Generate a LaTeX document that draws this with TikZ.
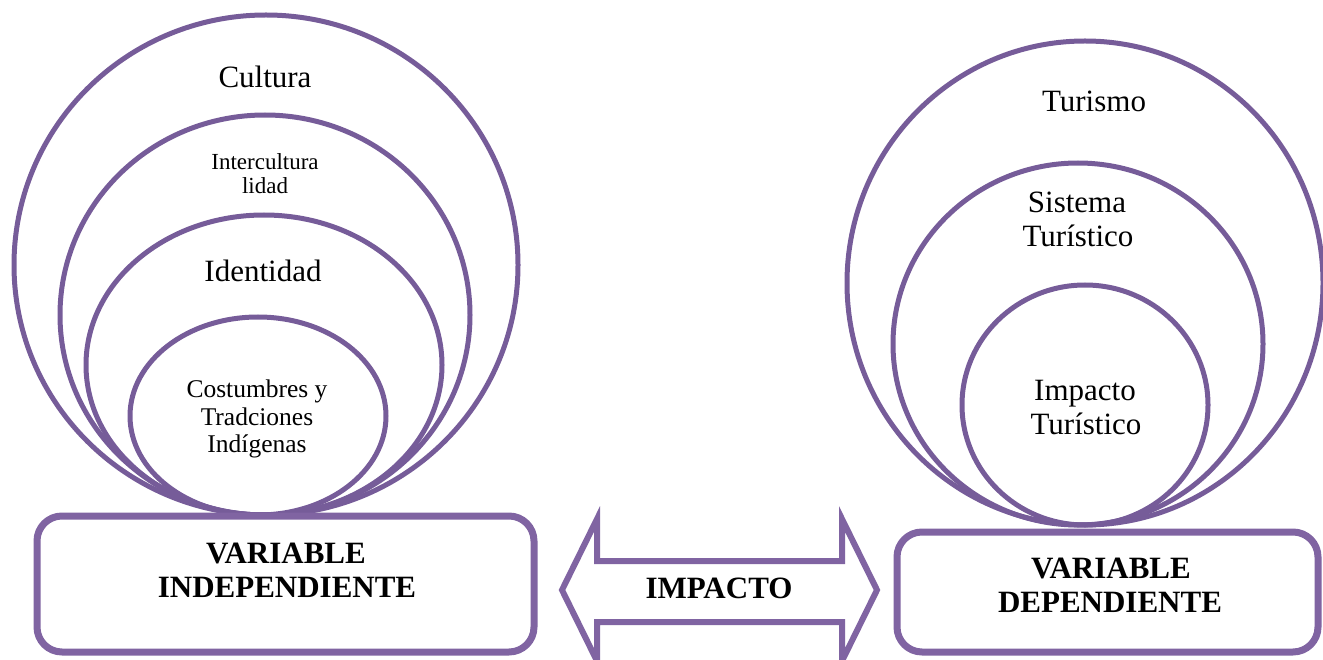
\documentclass[tikz,border=0pt]{standalone}
\usepackage{fontspec}
\setmainfont{Liberation Serif}
\definecolor{purp}{HTML}{8064A2}
\definecolor{purpdark}{HTML}{765C99}
\begin{document}
\begin{tikzpicture}[x=1pt,y=-1pt,
  ring/.style={draw=purpdark,line width=5pt},
  varbox/.style={draw=purp,line width=7pt,rounded corners=25pt,fill=white},
  bigtxt/.style={font=\fontsize{31}{34}\selectfont,anchor=base,inner sep=0pt},
  midtxt/.style={font=\fontsize{25.5}{28}\selectfont,anchor=base,inner sep=0pt},
  smalltxt/.style={font=\fontsize{23}{24}\selectfont,anchor=base,inner sep=0pt},
  boldtxt/.style={font=\fontsize{31}{34}\selectfont\bfseries,anchor=base,inner sep=0pt}]
\useasboundingbox (0,0) rectangle (1323,660);
% left group of rings
\draw[ring] (266,265) ellipse [x radius=252, y radius=250];
\draw[ring] (265,315) ellipse [x radius=205, y radius=200];
\draw[ring] (264,365) ellipse [x radius=178, y radius=150];
\draw[ring] (258,416) ellipse [x radius=128, y radius=99];
\node[bigtxt] (cultura) at (265,88) {Cultura};
\node[smalltxt] (inter1) at (265,170) {Intercultura};
\node[smalltxt] (inter2) at (265,194) {lidad};
\node[bigtxt] (identidad) at (263,282) {Identidad};
\node[midtxt] (cost1) at (257,397) {Costumbres y};
\node[midtxt] (cost2) at (257,425) {Tradciones};
\node[midtxt] (cost3) at (257,452) {Indígenas};
% right group of rings
\draw[ring] (1085,283) ellipse [x radius=238, y radius=242];
\draw[ring] (1078,344) ellipse [x radius=185, y radius=181];
\draw[ring] (1085,405) ellipse [x radius=123, y radius=120];
\node[bigtxt] (turismo) at (1094,112) {Turismo};
\node[bigtxt] (sist1) at (1077,213) {Sistema};
\node[bigtxt] (sist2) at (1078,247) {Turístico};
\node[bigtxt] (imp1) at (1085,400) {Impacto};
\node[bigtxt] (imp2) at (1086,434) {Turístico};
% boxes
\draw[varbox] (37,516) rectangle (534,652);
\draw[varbox] (897,532) rectangle (1318,652);
\node[boldtxt] (vi1) at (286,563) {VARIABLE};
\node[boldtxt] (vi2) at (287,597) {INDEPENDIENTE};
\node[boldtxt] (vd1) at (1111,578) {VARIABLE};
\node[boldtxt] (vd2) at (1110,612) {DEPENDIENTE};
% double arrow
\draw[draw=purp,line width=6pt,line join=miter,fill=white]
  (562,590) -- (597,519) -- (597,561) -- (842,561) -- (842,519) -- (877,590)
  -- (842,661) -- (842,622) -- (597,622) -- (597,661) -- cycle;
\node[boldtxt] (impacto) at (719,598) {IMPACTO};
\end{tikzpicture}
\end{document}
